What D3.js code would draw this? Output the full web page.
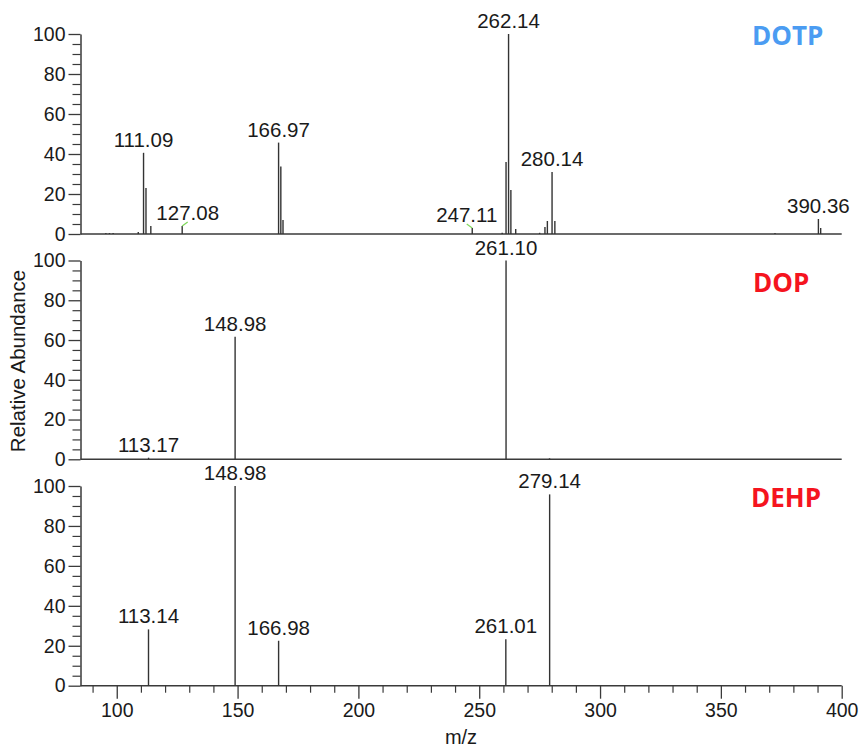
<!DOCTYPE html>
<html>
<head>
<meta charset="utf-8">
<script src="https://cdn.jsdelivr.net/npm/d3@7"></script>
<style>
  html, body { margin: 0; padding: 0; background: #fff; }
  svg { display: block; font-family: "Liberation Sans", Arial, sans-serif; }
</style>
</head>
<body>
<svg id="chart" width="859" height="747"></svg>
<script>
// ---------------- DATA ----------------
const panelNames = ["DOTP", "DOP", "DEHP"];
const panelColors = ["#4b9cf2", "#f5141e", "#f5141e"];

// DOTP spectrum (m/z, relative abundance %)
const dotpMz  = [95.5, 97.0, 98.5, 108.9, 111.09, 112.1, 114.1, 127.08, 166.97, 167.9, 168.8,
                 247.11, 259.5, 261.1, 262.14, 263.1, 265.1, 275.0, 277.2, 278.2, 280.14, 281.3,
                 372.4, 390.36, 391.3];
const dotpInt = [0.5, 0.5, 0.5, 1.0, 40.6, 23.0, 4.0, 4.0, 45.7, 33.7, 7.0,
                 3.0, 0.6, 36.0, 100, 22.0, 2.5, 0.6, 3.5, 6.5, 31.0, 6.5,
                 0.5, 7.5, 3.0];
const dotpLabels = ["111.09", "127.08", "166.97", "247.11", "262.14", "280.14", "390.36"];

// DOP spectrum
const dopMz  = [113.17, 148.98, 261.10, 279.1];
const dopInt = [0.8, 61.7, 100, 0.5];
const dopLabels = ["113.17", "148.98", "261.10"];

// DEHP spectrum
const dehpMz  = [113.14, 148.98, 166.98, 261.01, 279.14];
const dehpInt = [28.2, 100, 22.5, 23.2, 95.8];
const dehpLabels = ["113.14", "148.98", "166.98", "261.01", "279.14"];

// axis ticks
const xMajorTicks = [100, 150, 200, 250, 300, 350, 400];
const yMajorTicks = [0, 20, 40, 60, 80, 100];

// ---------------- LAYOUT ----------------
const svg = d3.select("#chart");
const left = 80.5, right = 841.7;
const panelBoxes = [ {top: 34, bottom: 234}, {top: 260.5, bottom: 459.3}, {top: 486, bottom: 685.7} ];
const titlePos = [ {x: 752, y: 45}, {x: 753, y: 292}, {x: 751, y: 507} ];
// labels pushed sideways with a green leader line (label -> px shift)
const leaderShift = { "127.08": 5.5, "247.11": -5.5 };

const x = d3.scaleLinear().domain([85, 400]).range([left, right]);

const spectra = [
  { mz: dotpMz, int: dotpInt, labels: dotpLabels },
  { mz: dopMz,  int: dopInt,  labels: dopLabels },
  { mz: dehpMz, int: dehpInt, labels: dehpLabels }
];

const axisColor = "#3a3a3a";
const textColor = "#1a1a1a";
const tickFont = 19.5, labelFont = 20.5;

spectra.forEach((sp, i) => {
  const box = panelBoxes[i];
  const y = d3.scaleLinear().domain([0, 100]).range([box.bottom, box.top]);
  const g = svg.append("g");

  // minor y ticks
  const minorY = d3.range(0, 101, 5).filter(v => v % 20 !== 0);
  g.append("g")
    .attr("transform", `translate(${left},0)`)
    .call(d3.axisLeft(y).tickValues(minorY).tickSize(8).tickSizeOuter(0).tickFormat(""))
    .call(a => a.select(".domain").remove())
    .call(a => a.selectAll("line").attr("stroke", axisColor).attr("stroke-width", 1.2));

  // major y ticks + labels
  g.append("g")
    .attr("transform", `translate(${left},0)`)
    .call(d3.axisLeft(y).tickValues(yMajorTicks).tickSize(12).tickSizeOuter(0).tickPadding(3))
    .call(a => a.select(".domain").attr("stroke", axisColor).attr("stroke-width", 1.5))
    .call(a => a.selectAll("line").attr("stroke", axisColor).attr("stroke-width", 1.3))
    .call(a => a.selectAll("text").attr("font-size", tickFont).attr("fill", textColor)
               .attr("font-family", "'Liberation Sans', Arial, sans-serif"));

  // baseline
  g.append("line")
    .attr("x1", left).attr("x2", right)
    .attr("y1", y(0)).attr("y2", y(0))
    .attr("stroke", axisColor).attr("stroke-width", 1.5);

  // peaks
  const peaks = sp.mz.map((m, k) => ({ mz: m, v: sp.int[k] }));
  g.append("g").selectAll("line").data(peaks).join("line")
    .attr("x1", d => x(d.mz)).attr("x2", d => x(d.mz))
    .attr("y1", y(0)).attr("y2", d => y(d.v))
    .attr("stroke", "#333").attr("stroke-width", 1.4);

  // labels
  const labelled = peaks.filter(d => sp.labels.includes(d.mz.toFixed(2)));
  labelled.forEach(d => {
    const txt = d.mz.toFixed(2);
    const shift = leaderShift[txt] || 0;
    const cx = x(d.mz) + shift;
    const base = y(d.v) - 6;
    if (shift !== 0) {
      g.append("line")
        .attr("x1", x(d.mz)).attr("y1", y(d.v))
        .attr("x2", cx).attr("y2", base + 2)
        .attr("stroke", "#7fd85a").attr("stroke-width", 1.2);
    }
    g.append("text")
      .attr("x", cx).attr("y", base)
      .attr("text-anchor", "middle")
      .attr("font-size", labelFont)
      .attr("fill", textColor)
      .text(txt);
  });

  // panel title
  svg.append("text")
    .attr("x", titlePos[i].x).attr("y", titlePos[i].y)
    .attr("font-family", "'Open Sans', 'Liberation Sans', sans-serif")
    .attr("font-weight", "bold")
    .attr("font-size", 26)
    .attr("fill", panelColors[i])
    .text(panelNames[i]);

  // x-axis on bottom panel
  if (i === spectra.length - 1) {
    const minorX = d3.range(90, 400, 10).filter(v => v % 50 !== 0);
    g.append("g")
      .attr("transform", `translate(0,${y(0)})`)
      .call(d3.axisBottom(x).tickValues(minorX).tickSize(7).tickSizeOuter(0).tickFormat(""))
      .call(a => a.select(".domain").remove())
      .call(a => a.selectAll("line").attr("stroke", axisColor).attr("stroke-width", 1.2));
    g.append("g")
      .attr("transform", `translate(0,${y(0)})`)
      .call(d3.axisBottom(x).tickValues(xMajorTicks).tickSize(13).tickSizeOuter(0).tickPadding(4))
      .call(a => a.select(".domain").remove())
      .call(a => a.selectAll("line").attr("stroke", axisColor).attr("stroke-width", 1.3))
      .call(a => a.selectAll("text").attr("font-size", tickFont).attr("fill", textColor)
                 .attr("font-family", "'Liberation Sans', Arial, sans-serif"));
  }
});

// axis titles
svg.append("text")
  .attr("transform", "translate(24.5,361) rotate(-90)")
  .attr("text-anchor", "middle")
  .attr("font-size", 20.5)
  .attr("fill", textColor)
  .text("Relative Abundance");

svg.append("text")
  .attr("x", 461).attr("y", 744)
  .attr("text-anchor", "middle")
  .attr("font-size", 20)
  .attr("fill", textColor)
  .text("m/z");
</script>
</body>
</html>
